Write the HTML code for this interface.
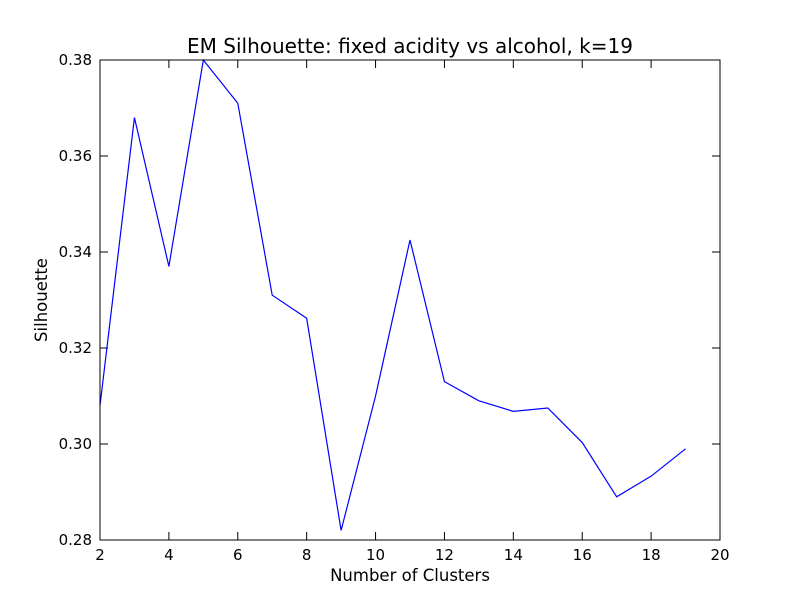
<!DOCTYPE html>
<html><head><meta charset="utf-8"><style>
body{margin:0;background:#fff;}
svg text{font-family:"DejaVu Sans","Liberation Sans",sans-serif;}
</style></head><body>
<svg id="chart" width="800" height="600" viewBox="0 0 800 600">
<rect x="0" y="0" width="800" height="600" fill="#fff"/>
<g id="ticks"></g>
<polyline id="line" fill="none" stroke="#0000ff" stroke-width="1.2"/>
<rect x="100" y="60" width="620" height="480" fill="none" stroke="#000" stroke-width="1"/>
<text x="410" y="53" font-size="20" text-anchor="middle">EM Silhouette: fixed acidity vs alcohol, k=19</text>
<text x="410" y="581" font-size="16.5" text-anchor="middle">Number of Clusters</text>
<text x="47" y="300" font-size="16.5" text-anchor="middle" transform="rotate(-90 47 300)">Silhouette</text>
</svg>
<script>
const clusters=[2,3,4,5,6,7,8,9,10,11,12,13,14,15,16,17,18,19];
const silhouette=[0.308,0.368,0.337,0.380,0.371,0.331,0.3262,0.282,0.310,0.3425,0.313,0.309,0.3068,0.3075,0.3003,0.289,0.2933,0.299];
const xTicks=[2,4,6,8,10,12,14,16,18,20];
const yTicks=[0.28,0.30,0.32,0.34,0.36,0.38];
const X0=100,X1=720,Y0=540,Y1=60,xmin=2,xmax=20,ymin=0.28,ymax=0.38;
function sx(v){return X0+(v-xmin)/(xmax-xmin)*(X1-X0);}
function sy(v){return Y0-(v-ymin)/(ymax-ymin)*(Y0-Y1);}
const NS="http://www.w3.org/2000/svg";
const line=document.getElementById('line');
line.setAttribute('points',clusters.map((c,i)=>sx(c)+','+sy(silhouette[i])).join(' '));
const g=document.getElementById('ticks');
function mk(tag,attrs){const e=document.createElementNS(NS,tag);for(const k in attrs)e.setAttribute(k,attrs[k]);g.appendChild(e);return e;}
xTicks.forEach(t=>{
  const x=sx(t);
  const a=mk('line',{x1:x,x2:x,y1:Y0,y2:Y0-8,stroke:'#000'});
  
  
  const b=mk('line',{x1:x,x2:x,y1:Y1,y2:Y1+8,stroke:'#000'});
  
  
  const tx=mk('text',{x:x,y:Y0+20,'font-size':15,'text-anchor':'middle'});
  tx.textContent=t;
  
  
});
yTicks.forEach(t=>{
  const y=sy(t);
  const a=mk('line',{x1:X0,x2:X0+8,y1:y,y2:y,stroke:'#000'});
  
  
  const b=mk('line',{x1:X1,x2:X1-8,y1:y,y2:y,stroke:'#000'});
  
  
  const tx=mk('text',{x:X0-8,y:y+5,'font-size':15,'text-anchor':'end'});
  tx.textContent=t.toFixed(2);
  
  
});
</script>
</body></html>
